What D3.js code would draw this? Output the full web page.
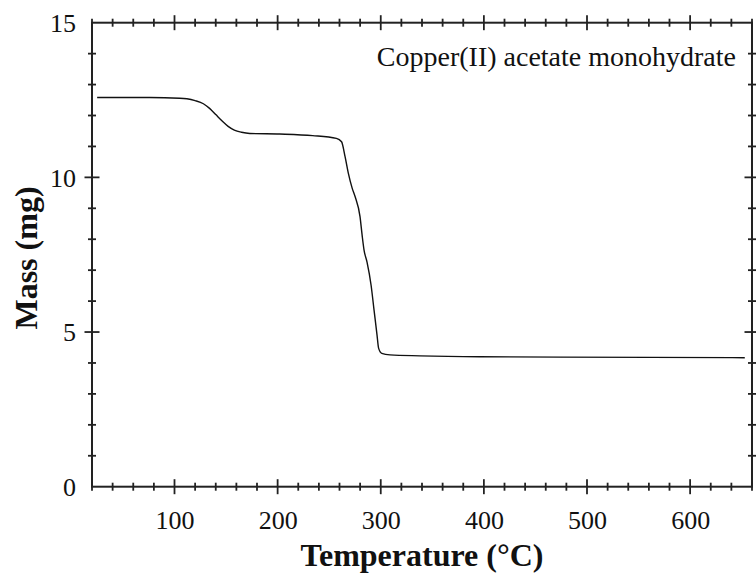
<!DOCTYPE html>
<html>
<head>
<meta charset="utf-8">
<script src="https://cdn.jsdelivr.net/npm/d3@7"></script>
<style>
  body { margin: 0; background: #fff; }
  svg { display: block; }
  text { font-family: "Liberation Serif", "Times New Roman", serif; fill: #111; }
</style>
</head>
<body>
<svg id="chart" width="756" height="577"></svg>
<script>
// Temperature (°C) readings
const temperature = [25, 76, 105, 112, 120, 128, 134, 140, 146, 152, 158, 165, 173, 202, 234, 257, 262, 265.4, 268.6, 272.2, 275.1, 279.9, 281.9, 283.8, 286.7, 290.6, 293.5, 296.4, 297.9, 301, 309, 338, 396, 474, 561, 653];
// Mass (mg) readings
const mass = [12.58, 12.58, 12.56, 12.54, 12.48, 12.38, 12.23, 12.03, 11.83, 11.65, 11.53, 11.46, 11.42, 11.40, 11.35, 11.26, 11.15, 10.67, 10.13, 9.66, 9.38, 8.73, 8.14, 7.65, 7.26, 6.52, 5.71, 4.90, 4.48, 4.31, 4.26, 4.23, 4.20, 4.19, 4.18, 4.17];

const xDomain = [20, 660];
const yDomain = [0, 15];
const xMajorTicks = [100, 200, 300, 400, 500, 600];
const yMajorTicks = [0, 5, 10, 15];
const xMinorStep = 20;
const yMinorStep = 1;
const annotation = "Copper(II) acetate monohydrate";
const xTitle = "Temperature (°C)";
const yTitle = "Mass (mg)";

const svg = d3.select("#chart");
const L = 92, R = 752, T = 22.7, B = 486.7;

const x = d3.scaleLinear().domain(xDomain).range([L, R]);
const y = d3.scaleLinear().domain(yDomain).range([B, T]);

const axisColor = "#222";

// frame
svg.append("rect")
  .attr("x", L).attr("y", T).attr("width", R - L).attr("height", B - T)
  .attr("fill", "none").attr("stroke", axisColor).attr("stroke-width", 2);

// minor ticks
const xMinor = d3.range(xDomain[0], xDomain[1] + 0.01, xMinorStep).filter(v => !xMajorTicks.includes(v));
const yMinor = d3.range(yDomain[0], yDomain[1] + 0.01, yMinorStep).filter(v => !yMajorTicks.includes(v));

const tickG = svg.append("g").attr("stroke", axisColor).attr("stroke-width", 1.8);
[B, T].forEach(py => {
  tickG.selectAll(null).data(xMinor).enter().append("line")
    .attr("x1", d => x(d)).attr("x2", d => x(d))
    .attr("y1", py - 4).attr("y2", py + 4);
  tickG.selectAll(null).data(xMajorTicks).enter().append("line")
    .attr("x1", d => x(d)).attr("x2", d => x(d))
    .attr("y1", py - 7.5).attr("y2", py + 7.5);
});
[L, R].forEach(px => {
  tickG.selectAll(null).data(yMinor).enter().append("line")
    .attr("y1", d => y(d)).attr("y2", d => y(d))
    .attr("x1", px - 4).attr("x2", px + 4);
  tickG.selectAll(null).data(yMajorTicks.filter(v => v > yDomain[0] && v < yDomain[1])).enter().append("line")
    .attr("y1", d => y(d)).attr("y2", d => y(d))
    .attr("x1", px - 7.5).attr("x2", px + 7.5);
});

// axes for labels
const xAxis = d3.axisBottom(x).tickValues(xMajorTicks).tickSize(0).tickPadding(0).tickFormat(d3.format("d"));
const gx = svg.append("g").attr("transform", `translate(0,${B})`).call(xAxis);
gx.select(".domain").remove();
gx.selectAll("text")
  .attr("y", 42).attr("dy", null)
  .style("font-family", '"Liberation Serif", "Times New Roman", serif')
  .style("font-size", "26px").attr("fill", "#111");

const yAxis = d3.axisLeft(y).tickValues(yMajorTicks).tickSize(0).tickPadding(0).tickFormat(d3.format("d"));
const gy = svg.append("g").attr("transform", `translate(${L},0)`).call(yAxis);
gy.select(".domain").remove();
gy.selectAll("text")
  .attr("x", -16).attr("dy", "0.34em")
  .style("font-family", '"Liberation Serif", "Times New Roman", serif')
  .style("font-size", "26px").attr("fill", "#111");

// curve
const data = temperature.map((t, i) => [t, mass[i]]);
const line = d3.line().x(d => x(d[0])).y(d => y(d[1])).curve(d3.curveMonotoneX);
svg.append("path").datum(data)
  .attr("d", line).attr("fill", "none").attr("stroke", "#111").attr("stroke-width", 1.4);

// annotation
svg.append("text")
  .attr("x", 736).attr("y", 66).attr("text-anchor", "end")
  .style("font-size", "28px").text(annotation);

// titles
svg.append("text")
  .attr("x", (L + R) / 2).attr("y", 566).attr("text-anchor", "middle")
  .style("font-size", "32px").style("font-weight", "bold").text(xTitle);

svg.append("text")
  .attr("transform", `translate(37,258) rotate(-90)`).attr("text-anchor", "middle")
  .style("font-size", "32px").style("font-weight", "bold").text(yTitle);
</script>
</body>
</html>
